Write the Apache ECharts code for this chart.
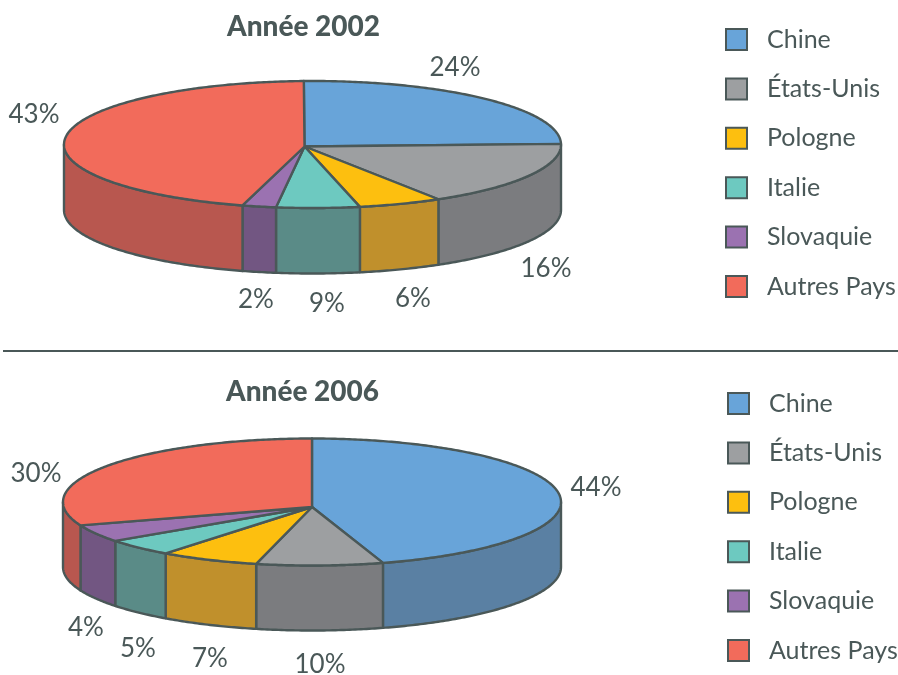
<!DOCTYPE html>
<html><head><meta charset="utf-8">
<style>html,body{margin:0;padding:0;background:#fff}#c{width:898px;height:675px}</style>
<script src="https://cdn.jsdelivr.net/npm/echarts@6/dist/echarts.min.js"></script>
</head><body><div id="c"></div>
<script>
const categories = ['Chine','États-Unis','Pologne','Italie','Slovaquie','Autres Pays'];
// Percentages printed on the reference.
const labels2002 = [24,16,6,9,2,43];
const labels2006 = [44,10,7,5,4,30];
// Slice widths as drawn in the reference, read from the seams: they differ from the printed percentages.
const drawn2002 = [25.4,16.7,5.4,5.4,2.2,44.9];
const drawn2006 = [45.4,8.2,6.4,4.5,4.5,31];
const topColors  = ['#68a4d9','#9d9fa1','#fdbf0f','#6dc9c0','#9b72b1','#f26b5b'];
const wallColors = ['#5a80a3','#7b7c7f','#c0902c','#5a8b87','#725682','#b8574f'];
const ink = '#4a5858';

const pies = [
  {title:'Année 2002', labels:labels2002, drawn:drawn2002, cx:312.5, cy:144.5, a:248.5, b:63.5, depth:65.5, ax:304.5, ay:146.5, start:-2,
   labelAt:[[455,68],[546,269],[413,299],[327,304],[256,300],[34,115]], titleAt:[227,13], legendAt:[725,27]},
  {title:'Année 2006', labels:labels2006, drawn:drawn2006, cx:312, cy:502, a:249, b:63.5, depth:65, ax:312, ay:507, start:0,
   labelAt:[[596,488],[320,665],[210,659],[138,649],[86,628],[36,474]], titleAt:[226,378], legendAt:[727,391]}
];

function arc(p, t0, t1) {
  const n = Math.max(2, Math.ceil(Math.abs(t1 - t0) * 1.5)), out = [];
  for (let i = 0; i <= n; i++) {
    const t = (t0 + (t1 - t0) * i / n) * Math.PI / 180;
    out.push([p.cx + p.a * Math.sin(t), p.cy - p.b * Math.cos(t)]);
  }
  return out;
}
const line = {stroke: ink, lineWidth: 2.4, lineJoin: 'round'};

function sliceSeries(p, i) {
  const before = p.drawn.slice(0, i).reduce((s, v) => s + v, 0);
  return {
    type: 'custom', name: categories[i], coordinateSystem: 'none', silent: true,
    itemStyle: {color: topColors[i]},
    data: [[p.drawn[i], p.labels[i]]],
    renderItem: (params, api) => {
      const t0 = p.start + before * 3.6, t1 = t0 + api.value(0) * 3.6;
      const kids = [];
      const w0 = Math.max(t0, 90), w1 = Math.min(t1, 270);
      if (w1 > w0) {
        const rim = arc(p, w0, w1);
        const low = rim.slice().reverse().map(q => [q[0], q[1] + p.depth]);
        kids.push({type:'polygon', shape:{points: rim.concat(low)}, style:Object.assign({fill: wallColors[i]}, line)});
      }
      kids.push({type:'polygon', shape:{points: [[p.ax, p.ay]].concat(arc(p, t0, t1))}, style:Object.assign({fill: topColors[i]}, line), z2: 5});
      kids.push({type:'text', x:p.labelAt[i][0], y:p.labelAt[i][1], z2: 6,
        style:{text: api.value(1) + '%', fill: ink, font: '26px Lato', align:'center', verticalAlign:'middle'}});
      return {type:'group', children: kids};
    }
  };
}

const option = {
  animation: false,
  title: pies.map(p => ({text:p.title, left:p.titleAt[0], top:p.titleAt[1], padding:0,
    textStyle:{fontFamily:'Lato', fontWeight:900, fontSize:28, color:ink}})),
  legend: pies.map(p => ({
    orient:'vertical', left:p.legendAt[0], top:p.legendAt[1], padding:0, itemGap:24.4, itemWidth:21, itemHeight:21,
    icon:'rect', selectedMode:false,
    data: categories.map((c, i) => ({name:c, itemStyle:{color:topColors[i], borderColor:ink, borderWidth:2, decal:'none'}})),
    textStyle:{fontFamily:'Lato', fontSize:25, lineHeight:24, color:ink, padding:[0,0,0,15]}
  })),
  graphic: [{type:'line', shape:{x1:3, y1:351, x2:898, y2:351}, style:{stroke:ink, lineWidth:2}}],
  series: pies.flatMap(p => categories.map((c, i) => sliceSeries(p, i)))
};
echarts.init(document.getElementById('c'), null, {renderer:'canvas'}).setOption(option);
</script></body></html>
